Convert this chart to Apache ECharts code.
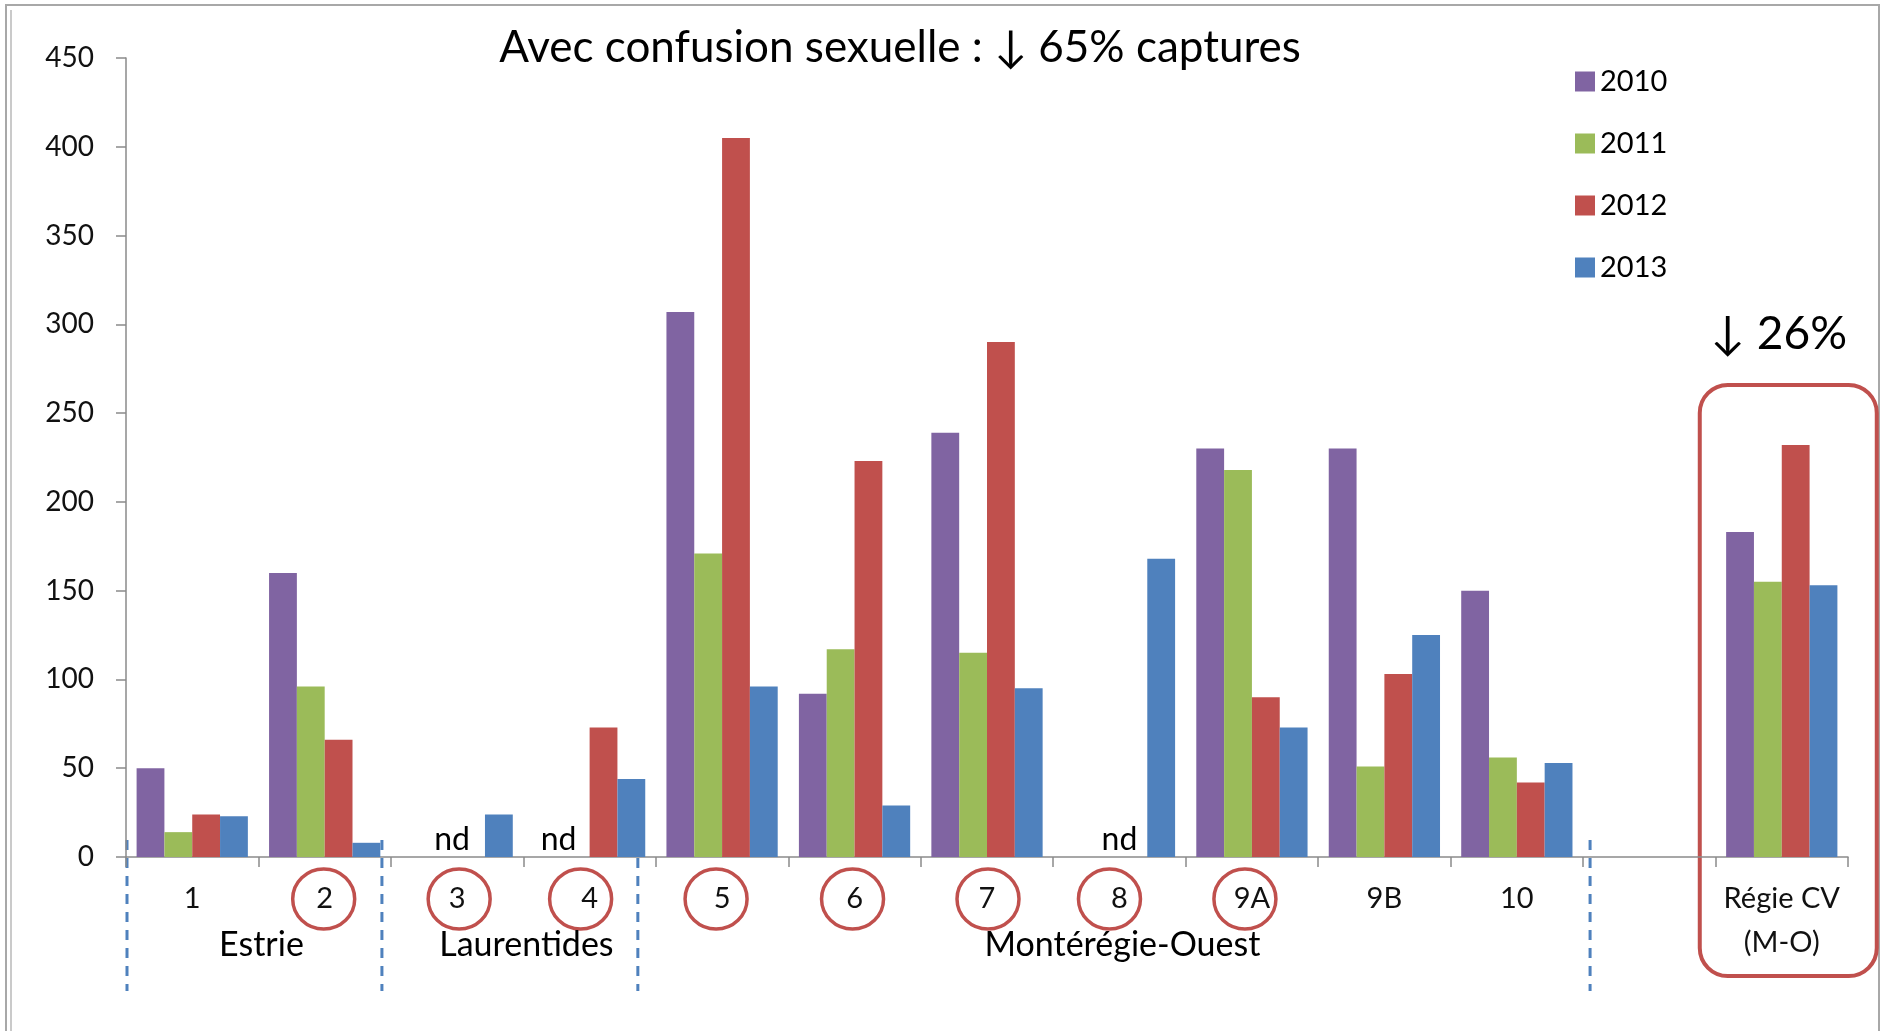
<!DOCTYPE html>
<html><head><meta charset="utf-8">
<script src="https://cdn.jsdelivr.net/npm/echarts@6/dist/echarts.min.js"></script>
<style>html,body{margin:0;padding:0;background:#fff}#c{width:1887px;height:1031px}</style>
</head><body><div id="c"></div>
<script>
const categories = ['1','2','3','4','5','6','7','8','9A','9B','10','','Régie CV\n(M-O)'];
const years = ['2010','2011','2012','2013'];
const s2010 = [50, 160, null, null, 307, 92, 239, null, 230, 230, 150, null, 183];
const s2011 = [14, 96, null, null, 171, 117, 115, null, 218, 51, 56, null, 155];
const s2012 = [24, 66, null, 73, 405, 223, 290, null, 90, 103, 42, null, 232];
const s2013 = [23, 8, 24, 44, 96, 29, 95, 168, 73, 125, 53, null, 153];
const yMin = 0, yMax = 450, yStep = 50;
const titleText = 'Avec confusion sexuelle : \u2193 65% captures';
const boxText = '\u2193 26%';
const groupLabels = ['Estrie', 'Laurentides', 'Montérégie-Ouest'];
const groupSpans = [[0, 1], [2, 3], [7, 7]];
const ndCategories = [2, 3, 7];
const circledCategories = [1, 2, 3, 4, 5, 6, 7, 8];
const dividerBoundaries = [-0.5, 1.5, 3.5, 10.5];
const highlightCategory = 12;

const colors = ['#8064A2', '#9BBB59', '#C0504D', '#4F81BD'];
const FONT = 'Lato, "Noto Sans", "DejaVu Sans", sans-serif';
const seriesData = [s2010, s2011, s2012, s2013];

const chart = echarts.init(document.getElementById('c'));
chart.setOption({
  animation: false,
  color: colors,
  textStyle: { fontFamily: FONT },
  grid: { left: 126, right: 39, top: 58, bottom: 174 },
  legend: {
    orient: 'vertical', left: 1575, top: 67, padding: 0,
    itemWidth: 20, itemHeight: 20, itemGap: 33, icon: 'rect',
    data: years,
    textStyle: { fontSize: 29, color: '#000', fontFamily: FONT, lineHeight: 20 }
  },
  xAxis: {
    type: 'category', data: categories,
    axisLine: { lineStyle: { color: '#8a8a8a', width: 1.5 } },
    axisTick: { show: true, length: 10, lineStyle: { color: '#8a8a8a', width: 1.5 } },
    axisLabel: { fontSize: 29, color: '#111', margin: 20, lineHeight: 44, interval: 0, fontFamily: FONT }
  },
  yAxis: {
    type: 'value', min: yMin, max: yMax, interval: yStep,
    splitLine: { show: false },
    axisLine: { show: true, lineStyle: { color: '#8a8a8a', width: 1.5 } },
    axisTick: { show: true, length: 10, lineStyle: { color: '#8a8a8a', width: 1.5 } },
    axisLabel: { fontSize: 28, color: '#111', margin: 32, fontFamily: FONT }
  },
  series: years.map((y, i) => ({
    name: y, type: 'bar', data: seriesData[i],
    barGap: '0%', barCategoryGap: '16%'
  }))
});

const px = (i) => chart.convertToPixel({ xAxisIndex: 0 }, i);
const catW = px(1) - px(0);
const bx = (b) => px(0) + b * catW;
const axisY = chart.convertToPixel({ yAxisIndex: 0 }, 0);

const g = [];
// outer frame
g.push({ type: 'rect', shape: { x: 6, y: 5, width: 1873, height: 1050 }, style: { fill: 'none', stroke: '#a8a8a8', lineWidth: 2 }, silent: true });
g.push({ type: 'line', shape: { x1: 11, y1: 10, x2: 11, y2: 1031 }, style: { stroke: '#b8b8b8', lineWidth: 1.5 }, silent: true });
// title
g.push({ type: 'text', style: { x: 900, y: 48, text: titleText, font: '44px ' + FONT, fill: '#000', align: 'center', verticalAlign: 'middle' } });
// nd labels
const ndOffsets = [-5, -31, 0];
ndCategories.forEach((c, k) => {
  g.push({ type: 'text', style: { x: px(c) + ndOffsets[k], y: axisY - 1, text: 'nd', font: '32px ' + FONT, fill: '#000', align: 'center', verticalAlign: 'bottom' } });
});
// circles
const circleOffsets = [-1, 2, -9, -6, -2, 1, -10, -7];
circledCategories.forEach((c, k) => {
  g.push({ type: 'ellipse', shape: { cx: px(c) + circleOffsets[k], cy: axisY + 42, rx: 31, ry: 30 }, style: { fill: 'none', stroke: '#C0504D', lineWidth: 3.5 } });
});
// dividers
const divOffsets = [1, -9, -18, 7];
dividerBoundaries.forEach((b, k) => {
  const x = bx(b) + divOffsets[k];
  g.push({ type: 'line', shape: { x1: x, y1: axisY - 17, x2: x, y2: axisY + 134 }, style: { stroke: '#4F81BD', lineWidth: 3, lineDash: [10, 8] } });
});
// group labels
groupLabels.forEach((t, k) => {
  const x = (px(groupSpans[k][0]) + px(groupSpans[k][1])) / 2;
  g.push({ type: 'text', style: { x: x + 3, y: axisY + 88, text: t, font: '34px ' + FONT, fill: '#000', align: 'center', verticalAlign: 'middle' } });
});
// highlight box
const hc = px(highlightCategory);
g.push({ type: 'rect', shape: { x: hc - 82, y: 385, width: 177, height: 591, r: 28 }, style: { fill: 'none', stroke: '#C0504D', lineWidth: 4 } });
g.push({ type: 'text', style: { x: hc - 3, y: 334, text: boxText, font: '46px ' + FONT, fill: '#000', align: 'center', verticalAlign: 'middle' } });

chart.setOption({ graphic: { elements: g } });
</script></body></html>
